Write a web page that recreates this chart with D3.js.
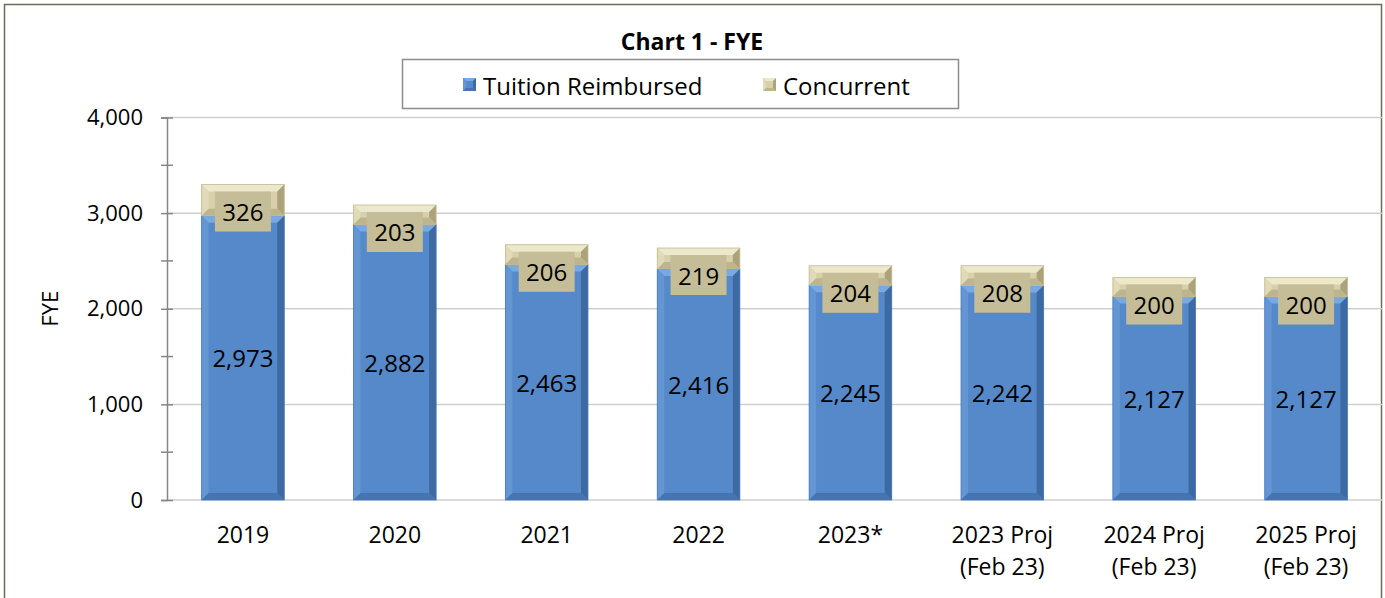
<!DOCTYPE html>
<html>
<head>
<meta charset="utf-8">
<script src="https://cdn.jsdelivr.net/npm/d3@7"></script>
<style>
  body { margin: 0; background: #fff; }
  svg { display: block; font-family: "Open Sans", sans-serif; }
</style>
</head>
<body>
<div id="chart"></div>
<script>
const categories = ["2019", "2020", "2021", "2022", "2023*", "2023 Proj|(Feb 23)", "2024 Proj|(Feb 23)", "2025 Proj|(Feb 23)"];
const tuition = [2973, 2882, 2463, 2416, 2245, 2242, 2127, 2127];
const concurrent = [326, 203, 206, 219, 204, 208, 200, 200];
const seriesNames = ["Tuition Reimbursed", "Concurrent"];
const yTicks = [0, 1000, 2000, 3000, 4000];

const width = 1385, height = 598;
const margin = { top: 117.5, right: 3, bottom: 98, left: 167 };
const font = '"Open Sans", sans-serif';

const rows = categories.map((c, i) => ({ cat: c, tuition: tuition[i], concurrent: concurrent[i] }));
const stacked = d3.stack().keys(["tuition", "concurrent"])(rows);

const svg = d3.select("#chart").append("svg")
  .attr("width", width).attr("height", height);

// outer frame
svg.append("rect")
  .attr("x", 4.5).attr("y", 4.5).attr("width", width - 8).attr("height", height + 10)
  .attr("fill", "#fff").attr("stroke", "#6e6a58").attr("stroke-width", 1.5);

const xScale = d3.scaleBand()
  .domain(categories)
  .range([margin.left, width - margin.right])
  .paddingInner(0.456).paddingOuter(0.228);

const yScale = d3.scaleLinear()
  .domain([0, 4000])
  .range([height - margin.bottom, margin.top]);

// gridlines
svg.append("g")
  .selectAll("line")
  .data(yTicks)
  .join("line")
  .attr("x1", margin.left).attr("x2", width - margin.right)
  .attr("y1", d => yScale(d)).attr("y2", d => yScale(d))
  .attr("stroke", "#cfcfcf").attr("stroke-width", 1.5);

// y axis
const yAxis = svg.append("g")
  .attr("transform", `translate(${margin.left},0)`)
  .call(d3.axisLeft(yScale).tickValues(yTicks).tickFormat(d3.format(",")).tickSize(6).tickPadding(18));
yAxis.select(".domain").attr("stroke", "#868686").attr("stroke-width", 1.5);
yAxis.selectAll(".tick line").attr("stroke", "#868686").attr("stroke-width", 1.5).attr("x2", 6).attr("x1", -6);
yAxis.selectAll(".tick text").attr("font-size", 22).attr("fill", "#000").attr("font-family", font);

// minor ticks
svg.append("g")
  .selectAll("line")
  .data(d3.range(500, 4000, 1000))
  .join("line")
  .attr("x1", margin.left - 6).attr("x2", margin.left + 6)
  .attr("y1", d => yScale(d)).attr("y2", d => yScale(d))
  .attr("stroke", "#868686").attr("stroke-width", 1.5);

// y title
svg.append("text")
  .attr("transform", `translate(58,${(yScale(0) + yScale(4000)) / 2}) rotate(-90)`)
  .attr("text-anchor", "middle")
  .attr("font-size", 22)
  .text("FYE");

// x labels
const xl = svg.append("g")
  .selectAll("text")
  .data(categories)
  .join("text")
  .attr("x", d => xScale(d) + xScale.bandwidth() / 2)
  .attr("y", 543)
  .attr("text-anchor", "middle")
  .attr("font-size", 23);
xl.selectAll("tspan")
  .data(d => d.split("|"))
  .join("tspan")
  .attr("x", function () { return this.parentNode.getAttribute("x"); })
  .attr("dy", (d, i) => i ? 32 : 0)
  .text(d => d);

// bevel drawing helper
const palettes = {
  tuition: { main: "#5689c9", top: "#7aa8e2", left: "#6496d4", right: "#3d6aa3", bottom: "#4574b0" },
  concurrent: { main: "#d7d0aa", top: "#ece8cc", left: "#e0dab8", right: "#aca37a", bottom: "#bdb58c" }
};

function bevelRect(g, x, y, w, h, pal, b) {
  b = Math.min(b, h / 2);
  g.append("rect").attr("x", x).attr("y", y).attr("width", w).attr("height", h).attr("fill", pal.main);
  const pts = (arr) => arr.map(p => p.join(",")).join(" ");
  g.append("polygon").attr("fill", pal.top)
    .attr("points", pts([[x, y], [x + w, y], [x + w - b, y + b], [x + b, y + b]]));
  g.append("polygon").attr("fill", pal.left)
    .attr("points", pts([[x, y], [x + b, y + b], [x + b, y + h - b], [x, y + h]]));
  g.append("polygon").attr("fill", pal.right)
    .attr("points", pts([[x + w, y], [x + w, y + h], [x + w - b, y + h - b], [x + w - b, y + b]]));
  g.append("polygon").attr("fill", pal.bottom)
    .attr("points", pts([[x, y + h], [x + b, y + h - b], [x + w - b, y + h - b], [x + w, y + h]]));
}

const bars = svg.append("g");
stacked.forEach(layer => {
  layer.forEach((seg, i) => {
    const x = xScale(categories[i]);
    const y0 = yScale(seg[1]), y1 = yScale(seg[0]);
    const g = bars.append("g");
    bevelRect(g, x, y0, xScale.bandwidth(), y1 - y0, palettes[layer.key], 7);
    g.append("rect").attr("x", x).attr("y", y0).attr("width", xScale.bandwidth()).attr("height", y1 - y0)
      .attr("fill", "none").attr("stroke", layer.key === "tuition" ? "#4a7bb8" : "#c2bb95").attr("stroke-width", 0.8);
  });
});

// labels
const labels = svg.append("g").attr("font-size", 24);
stacked.forEach(layer => {
  layer.forEach((seg, i) => {
    const cx = xScale(categories[i]) + xScale.bandwidth() / 2;
    const val = seg.data[layer.key];
    if (layer.key === "tuition") {
      labels.append("text")
        .attr("x", cx).attr("y", (yScale(seg[0]) + yScale(seg[1])) / 2)
        .attr("text-anchor", "middle").attr("dominant-baseline", "central")
        .text(d3.format(",")(val));
    } else {
      const top = yScale(seg[1]) + 7;
      labels.append("rect")
        .attr("x", cx - 28).attr("y", top).attr("width", 56).attr("height", 40)
        .attr("fill", "#c5bd97");
      labels.append("text")
        .attr("x", cx).attr("y", top + 20)
        .attr("text-anchor", "middle").attr("dominant-baseline", "central")
        .text(d3.format(",")(val));
    }
  });
});

// title
svg.append("text")
  .attr("x", 692).attr("y", 50)
  .attr("text-anchor", "middle")
  .attr("font-size", 23).attr("font-weight", "bold")
  .text("Chart 1 - FYE");

// legend
const legend = svg.append("g");
legend.append("rect")
  .attr("x", 402.5).attr("y", 59.5).attr("width", 556).attr("height", 49)
  .attr("fill", "#fff").attr("stroke", "#8c8c8c").attr("stroke-width", 1.5);
const legendX = [463, 763];
seriesNames.forEach((name, i) => {
  const key = i === 0 ? "tuition" : "concurrent";
  const g = legend.append("g");
  bevelRect(g, legendX[i], 78, 13, 13, palettes[key], 3);
  g.append("text")
    .attr("x", legendX[i] + 20).attr("y", 85)
    .attr("dominant-baseline", "central")
    .attr("font-size", 24)
    .text(name);
});
</script>
</body>
</html>
